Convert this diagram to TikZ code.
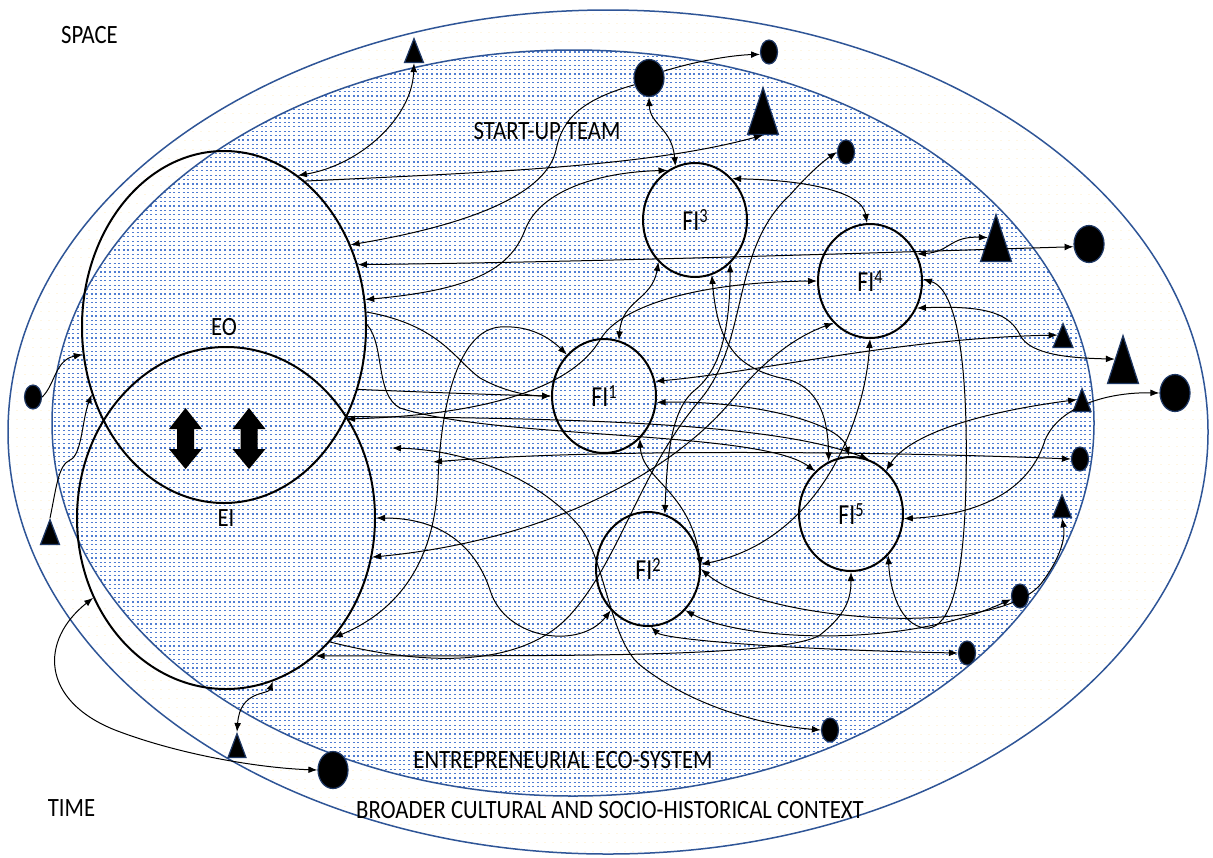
\documentclass[tikz,border=0pt]{standalone}
\usepackage{fontspec}
\setmainfont{Carlito}
\usepackage{graphicx}
\usetikzlibrary{arrows.meta,shapes.geometric}
\definecolor{ringblue}{RGB}{47,85,151}
\definecolor{dotblue}{RGB}{80,125,210}
\definecolor{ringcream}{RGB}{255,246,228}
\definecolor{markedge}{RGB}{31,56,100}
\newcommand{\narrowtext}[1]{\scalebox{0.86}[1]{#1}}
\newcommand{\filabel}[1]{\scalebox{0.82}[1]{FI\raisebox{0.62ex}{\fontsize{10}{10}\selectfont #1}}}

\begin{document}
\begin{tikzpicture}[x=0.5pt,y=-0.5pt,
  con/.style={line width=0.5pt, -{Latex[length=4.5pt,width=3.4pt]}},
  dcon/.style={line width=0.5pt, {Latex[length=4.5pt,width=3.4pt]}-{Latex[length=4.5pt,width=3.4pt]}},
  fi/.style={ellipse, draw, line width=1pt, minimum width=52pt, minimum height=57pt, inner sep=0pt, font=\fontsize{14.5}{16}\selectfont},
  bigoval/.style={ellipse, draw, line width=1pt, inner sep=0pt, font=\fontsize{13.2}{15}\selectfont},
  bigdot/.style={ellipse, fill=black, draw=markedge, line width=0.6pt, minimum width=15pt, minimum height=18.5pt, inner sep=0pt},
  smalldot/.style={ellipse, fill=black, draw=markedge, line width=0.6pt, minimum width=8.5pt, minimum height=12pt, inner sep=0pt},
  tri/.style 2 args={isosceles triangle, isosceles triangle stretches, shape border rotate=90, fill=black, draw=markedge, line width=0.6pt, inner sep=0pt, minimum width=#1, minimum height=#2, anchor=apex},
  caption/.style={font=\fontsize{13.2}{15}\selectfont, inner sep=0pt},
]
\useasboundingbox (0,0) rectangle (1213,857);
\fill[white] (0,0) rectangle (1213,857);

% faint cream texture of the outer context ring
\begin{scope}
  \clip (608,432) ellipse [x radius=600, y radius=422];
  \foreach \yy in {14,23,...,854}
    \draw[ringcream, line width=0.5pt, dash pattern=on 1pt off 3pt] (0,\yy) -- (1213,\yy);
\end{scope}
% dotted blue texture of the eco-system
\begin{scope}
  \clip (573,423) ellipse [x radius=521, y radius=373];
  \fill[white] (0,0) rectangle (1213,857);
  \foreach \yy in {52,56.4,...,796}
    \draw[dotblue, line width=0.6pt, dash pattern=on 1pt off 1.3pt] (40,\yy) -- (1100,\yy);
\end{scope}

% context and eco-system borders
\draw[ringblue, line width=0.75pt] (608,432) ellipse [x radius=600, y radius=422];
\draw[ringblue, line width=0.75pt] (573,423) ellipse [x radius=521, y radius=373];

% captions
\node[caption] (space) at (89.5,35.5) {\narrowtext{SPACE}};
\node[caption] (time) at (71.5,808.5) {\narrowtext{TIME}};
\node[caption] (team) at (547,131.5) {\narrowtext{START-UP TEAM}};
\node[caption] (eco) at (563,760) {\narrowtext{ENTREPRENEURIAL ECO-SYSTEM}};
\node[caption] (ctx) at (610,810) {\narrowtext{BROADER CULTURAL AND SOCIO-HISTORICAL CONTEXT}};

% entrepreneurial orientation and intention
\node[bigoval, minimum width=142pt, minimum height=176pt] (EO) at (224,327) {\narrowtext{EO}};
\node[bigoval, minimum width=149pt, minimum height=171pt] (EI) at (226,518) {\narrowtext{EI}};

% two block double arrows between EO and EI
\foreach \cx in {185.5,249}
  \fill[black] (\cx,408) -- (\cx+16.5,429) -- (\cx+8.5,429) -- (\cx+8.5,449) -- (\cx+16.5,449)
    -- (\cx,469) -- (\cx-16.5,449) -- (\cx-8.5,449) -- (\cx-8.5,429) -- (\cx-16.5,429) -- cycle;

% founder identities
\node[fi] (FI1) at (604,396) {\filabel{1}};
\node[fi] (FI2) at (648,569) {\filabel{2}};
\node[fi] (FI3) at (695,220) {\filabel{3}};
\node[fi] (FI4) at (870,281) {\filabel{4}};
\node[fi] (FI5) at (851,514) {\filabel{5}};

% stakeholders (dots and triangles)
\node[bigdot] (d2) at (649,78) {};
\node[smalldot] (d3) at (769,52) {};
\node[smalldot] (d5) at (846,152) {};
\node[bigdot] (d7) at (1089,244) {};
\node[bigdot] (d11) at (1175,393) {};
\node[smalldot] (d12) at (1080,459) {};
\node[smalldot] (d14) at (1020,596) {};
\node[smalldot] (d15) at (967,653) {};
\node[smalldot] (d16) at (830,730) {};
\node[bigdot] (d17) at (333,770) {};
\node[smalldot] (d20) at (33,397) {};

\node[tri={9.5pt}{12pt}] (t1) at (414,37) {};
\node[tri={15.5pt}{23.5pt}] (t4) at (763,86) {};
\node[tri={15.5pt}{23.5pt}] (t6) at (996,213) {};
\node[tri={10pt}{12pt}] (t8) at (1063,322) {};
\node[tri={15.5pt}{24pt}] (t9) at (1123,334) {};
\node[tri={9pt}{11.5pt}] (t10) at (1082,387) {};
\node[tri={9.5pt}{11.5pt}] (t13) at (1062,493) {};
\node[tri={9pt}{12pt}] (t18) at (237,732) {};
\node[tri={9.5pt}{12.5pt}] (t19) at (50,518) {};

\coordinate (f1) at (392,448);
\coordinate (f2) at (433,462);

% interactions
\draw[dcon] (EO.64) .. controls (360,165) and (412,118) .. (t1.lower side);
\draw[con] (EO.61) .. controls (500,172) and (650,166) .. (t4.lower side);
\draw[con] (d2.205) .. controls (580,100) and (562,120) .. (556,150) .. controls (545,200) and (450,228) .. (EO.33);
\draw[con] (d2.25) .. controls (700,60) and (735,55) .. (d3.195);
\draw[dcon] (d2.south) .. controls (650,125) and (672,128) .. (FI3.110);
\draw[dcon] (EO.25) .. controls (600,262) and (900,252) .. (d7.190);
\draw[dcon] (FI3.48) .. controls (800,180) and (862,190) .. (FI4.93);
\draw[dcon] (EO.11) .. controls (470,290) and (510,270) .. (525,230) .. controls (540,190) and (600,172) .. (FI3.119);
\draw[con] (EO.6) .. controls (440,325) and (455,360) .. (480,378) .. controls (505,392) and (530,396) .. (FI1.180);
\draw[dcon] (FI4.30) .. controls (950,252) and (950,236) .. (t6.left side);
\draw[con] (d20.east) .. controls (55,385) and (55,360) .. (EO.191);
\draw[con] (t19.apex) .. controls (56,490) and (58,465) .. (70,460) .. controls (82,455) and (82,420) .. (EO.207);
\draw[dcon] (EI.211) .. controls (40,640) and (40,700) .. (115,730) .. controls (180,755) and (260,768) .. (d17.west);
\draw[dcon] (EI.-74) .. controls (268,695) and (240,690) .. (t18.apex);
\draw[dcon] (EI.0) .. controls (440,518) and (475,545) .. (490,590) .. controls (505,640) and (580,650) .. (FI2.228);
\draw[dcon] (EI.-15) .. controls (550,540) and (680,470) .. (740,390) .. controls (770,355) and (800,335) .. (FI4.229);
\draw[dcon] (EI.-48) .. controls (400,610) and (435,560) .. (438,480) .. controls (441,400) and (460,330) .. (500,327) .. controls (530,325) and (550,338) .. (FI1.132);
\draw[con] (EI.-50) .. controls (420,665) and (520,670) .. (570,615) .. controls (620,560) and (640,470) .. (700,400) .. controls (750,340) and (730,250) .. (790,195) .. controls (810,172) and (825,160) .. (d5.west);
\draw[dcon] (EI.-57) .. controls (500,655) and (780,660) .. (820,635) .. controls (845,615) and (851,600) .. (FI5.-90);
\draw[dcon] (FI2.-87) .. controls (665,640) and (800,650) .. (d15.west);
\draw[dcon] (FI2.-48) .. controls (740,640) and (900,650) .. (d14.200);
\draw[dcon] (FI2.0) .. controls (760,620) and (990,640) .. (1040,585) .. controls (1058,562) and (1066,540) .. (t13.lower side);
\draw[dcon] (FI1.-50) .. controls (642,480) and (690,490) .. (FI2.3);
\draw[dcon] (FI4.-90) .. controls (865,420) and (820,540) .. (FI2.5);
\draw[dcon] (FI1.16) .. controls (760,372) and (900,338) .. (t8.left side);
\draw[dcon] (FI1.-7) .. controls (740,400) and (840,420) .. (FI5.92);
\draw[dcon] (FI3.229) .. controls (652,300) and (622,300) .. (FI1.75);
\draw[dcon] (FI3.-73) .. controls (718,350) and (740,370) .. (790,380) .. controls (820,390) and (828,420) .. (FI5.113);
\draw[dcon] (FI3.-51) .. controls (730,330) and (720,370) .. (695,390) .. controls (670,410) and (667,460) .. (FI2.73);
\draw[con] (EO.-25) .. controls (420,392) and (500,395) .. (FI1.180);
\draw[dcon] (EO.-37) .. controls (480,415) and (570,390) .. (600,340) .. controls (620,305) and (700,282) .. (FI4.180);
\draw[con] (EO.-36) .. controls (600,418) and (780,425) .. (FI5.72);
\draw[con] (EO.1) .. controls (385,345) and (375,395) .. (400,408) .. controls (500,440) and (760,430) .. (FI5.130);
\draw[dcon] (f2) .. controls (600,448) and (900,452) .. (d12.west);
\draw[dcon] (f1) .. controls (470,450) and (540,480) .. (580,527) .. controls (605,560) and (610,640) .. (640,665) .. controls (690,705) and (760,725) .. (d16.west);
\draw[dcon] (FI4.-30) .. controls (990,305) and (1010,315) .. (1020,335) .. controls (1030,355) and (1070,358) .. (t9.left side);
\draw[dcon] (FI4.2) .. controls (960,290) and (968,380) .. (966,480) .. controls (964,600) and (945,630) .. (925,628) .. controls (900,625) and (890,590) .. (FI5.-48);
\draw[dcon] (FI5.-5) .. controls (980,515) and (1030,490) .. (1045,440) .. controls (1060,405) and (1110,392) .. (d11.west);
\draw[dcon] (FI5.51) .. controls (905,440) and (960,415) .. (t10.left side);
\end{tikzpicture}
\end{document}
